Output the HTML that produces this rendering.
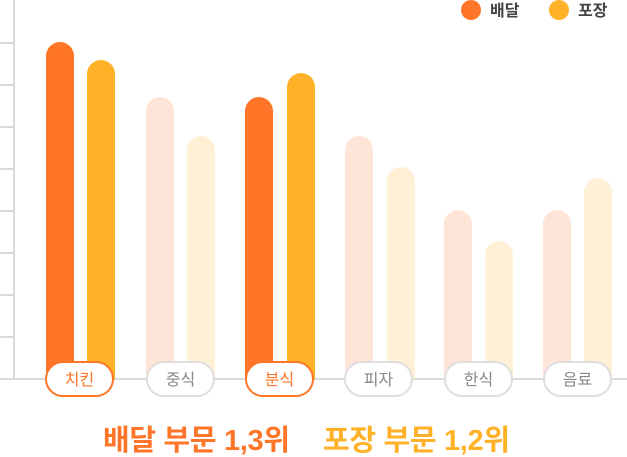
<!DOCTYPE html>
<html><head><meta charset="utf-8"><style>
body{margin:0;width:627px;height:457px;background:#fff;overflow:hidden;font-family:"Liberation Sans","Noto Sans CJK KR",sans-serif;}
</style></head><body>
<svg width="627" height="457" xmlns="http://www.w3.org/2000/svg" style="position:absolute;left:0;top:0">
<g stroke="#d9d9d9" stroke-width="2">
<line x1="14" y1="0" x2="14" y2="379"/>
<line x1="0" y1="43" x2="14" y2="43"/><line x1="0" y1="85" x2="14" y2="85"/>
<line x1="0" y1="127" x2="14" y2="127"/><line x1="0" y1="169" x2="14" y2="169"/>
<line x1="0" y1="211" x2="14" y2="211"/><line x1="0" y1="253" x2="14" y2="253"/>
<line x1="0" y1="295" x2="14" y2="295"/><line x1="0" y1="337" x2="14" y2="337"/>
<line x1="0" y1="379" x2="627" y2="379"/>
</g>
<g>
<path d="M46 379V56a14 14 0 0 1 28 0V379Z" fill="#ff7628"/>
<path d="M87 379V74a14 14 0 0 1 28 0V379Z" fill="#ffb128"/>
<path d="M146 379V111a14 14 0 0 1 28 0V379Z" fill="#ffe4d8"/>
<path d="M187 379V150a14 14 0 0 1 28 0V379Z" fill="#fff0d6"/>
<path d="M245 379V111a14 14 0 0 1 28 0V379Z" fill="#ff7628"/>
<path d="M287 379V87a14 14 0 0 1 28 0V379Z" fill="#ffb128"/>
<path d="M345 379V150a14 14 0 0 1 28 0V379Z" fill="#ffe4d8"/>
<path d="M387 379V181a14 14 0 0 1 28 0V379Z" fill="#fff0d6"/>
<path d="M444 379V224a14 14 0 0 1 28 0V379Z" fill="#ffe4d8"/>
<path d="M485 379V255a14 14 0 0 1 28 0V379Z" fill="#fff0d6"/>
<path d="M543 379V224a14 14 0 0 1 28 0V379Z" fill="#ffe4d8"/>
<path d="M584 379V192a14 14 0 0 1 28 0V379Z" fill="#fff0d6"/>
</g>
<g font-size="16" text-anchor="middle" font-family="Liberation Sans, Noto Sans CJK KR, sans-serif">
<rect x="46" y="362" width="67" height="34" rx="17" fill="#fff" stroke="#ff7628" stroke-width="2"/>
<text x="79.5" y="385" fill="#ff7628">치킨</text>
<rect x="147" y="362" width="67" height="34" rx="17" fill="#fff" stroke="#dedede" stroke-width="2"/>
<text x="180.5" y="385" fill="#888">중식</text>
<rect x="246" y="362" width="67" height="34" rx="17" fill="#fff" stroke="#ff7628" stroke-width="2"/>
<text x="279.5" y="385" fill="#ff7628">분식</text>
<rect x="345" y="362" width="67" height="34" rx="17" fill="#fff" stroke="#dedede" stroke-width="2"/>
<text x="378.5" y="385" fill="#888">피자</text>
<rect x="445" y="362" width="67" height="34" rx="17" fill="#fff" stroke="#dedede" stroke-width="2"/>
<text x="478.5" y="385" fill="#888">한식</text>
<rect x="544" y="362" width="67" height="34" rx="17" fill="#fff" stroke="#dedede" stroke-width="2"/>
<text x="577.5" y="385" fill="#888">음료</text>
</g>
<circle cx="471" cy="10" r="10" fill="#ff7628"/>
<text x="490" y="16" font-size="16" font-weight="bold" fill="#444">배달</text>
<circle cx="559" cy="10" r="10" fill="#ffb128"/>
<text x="578" y="16" font-size="16" font-weight="bold" fill="#444">포장</text>
<text x="103" y="450" font-size="29" font-weight="bold" fill="#ff7628" textLength="187" lengthAdjust="spacing">배달 부문 1,3위</text>
<text x="323" y="450" font-size="29" font-weight="bold" fill="#ffb128" textLength="187" lengthAdjust="spacing">포장 부문 1,2위</text>
</svg>
</body></html>
